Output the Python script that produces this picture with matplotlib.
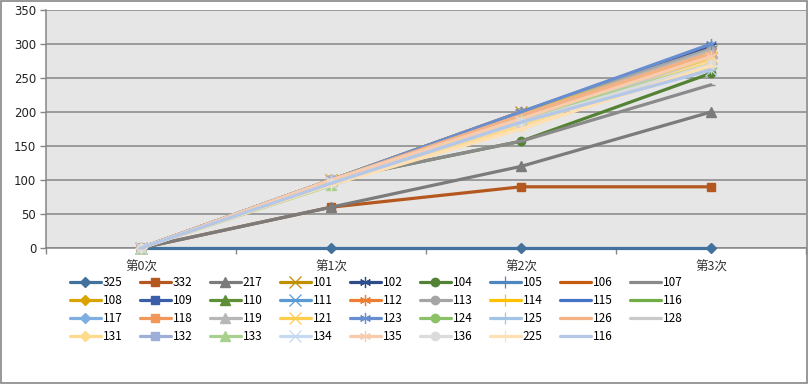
import matplotlib
matplotlib.use("Agg")
import matplotlib.pyplot as plt
from matplotlib.patches import Rectangle

plt.rcParams['font.family'] = ['Noto Sans CJK SC', 'DejaVu Sans']

categories = ["第0次", "第1次", "第2次", "第3次"]

series_names = ["325", "332", "217", "101", "102", "104", "105", "106", "107",
                "108", "109", "110", "111", "112", "113", "114", "115", "116",
                "117", "118", "119", "121", "123", "124", "125", "126", "128",
                "131", "132", "133", "134", "135", "136", "225", "116"]

s325 = [0, 0, 0, 0]
s332 = [0, 60, 90, 90]
s217 = [0, 60, 120, 200]
s101 = [0, 100, 200, 290]
s102 = [0, 100, 200, 297]
s104 = [0, 100, 157, 257]
s105 = [0, 100, 195, 280]
s106 = [0, 100, 195, 285]
s107 = [0, 100, 157, 240]
s108 = [0, 100, 195, 285]
s109 = [0, 100, 190, 270]
s110 = [0, 100, 190, 275]
s111 = [0, 100, 195, 280]
s112 = [0, 100, 200, 290]
s113 = [0, 100, 200, 293]
s114 = [0, 100, 197, 288]
s115 = [0, 100, 185, 265]
s116 = [0, 100, 190, 275]
s117 = [0, 100, 190, 272]
s118 = [0, 100, 195, 285]
s119 = [0, 100, 195, 290]
s121 = [0, 100, 190, 280]
s123 = [0, 100, 200, 300]
s124 = [0, 100, 190, 270]
s125 = [0, 100, 185, 265]
s126 = [0, 100, 195, 287]
s128 = [0, 100, 190, 275]
s131 = [0, 95, 180, 275]
s132 = [0, 100, 185, 268]
s133 = [0, 92, 190, 270]
s134 = [0, 95, 185, 262]
s135 = [0, 100, 190, 282]
s136 = [0, 95, 185, 270]
s225 = [0, 93, 175, 268]
s116b = [0, 95, 185, 262]

series_values = [s325, s332, s217, s101, s102, s104, s105, s106, s107,
                 s108, s109, s110, s111, s112, s113, s114, s115, s116,
                 s117, s118, s119, s121, s123, s124, s125, s126, s128,
                 s131, s132, s133, s134, s135, s136, s225, s116b]

colors = ["#41719C", "#B5581F", "#7B7B7B", "#BF9000", "#2F4C8A", "#548235", "#4E86BE", "#C55A11", "#8A8A8A",
          "#D9A300", "#3A5FA8", "#5E8F36", "#5B9BD5", "#ED7D31", "#A5A5A5", "#FFC000", "#4472C4", "#70AD47",
          "#7FAEE0", "#F1975A", "#B7B7B7", "#FFCD4D", "#698ED0", "#8CC168", "#A3C3E7", "#F4B183", "#C9C9C9",
          "#FFD98C", "#9DAED9", "#A9D18E", "#C5D9F0", "#F8CBAD", "#DBDBDB", "#FFE0B3", "#B4C7E7"]

marker_cycle = ['D', 's', '^', 'x', (6, 2, 0), 'o', '+', '_', '_']

fig = plt.figure(figsize=(8.09, 3.84), dpi=100)
fig.patch.set_facecolor('white')
fig.patches.append(Rectangle((0.001, 0.002), 0.997, 0.995, transform=fig.transFigure,
                             fill=False, edgecolor='#868686', linewidth=1.2))

ax = fig.add_axes([46/809, 1 - 248/384, (806 - 46)/809, (248 - 10)/384])
ax.set_facecolor('#E6E6E6')

x = list(range(len(categories)))
handles = []
for i, (name, vals) in enumerate(zip(series_names, series_values)):
    m = marker_cycle[i % len(marker_cycle)]
    ms = 6
    mew = 1.0
    if m == 'D':
        ms = 5
    if m == '^':
        ms = 6.5
    if m == 'x' or m == (6, 2, 0) or m == '+':
        ms = 8
        mew = 0.9
    h, = ax.plot(x, vals, color=colors[i], linewidth=2.3, marker=m, markersize=ms,
                 markeredgewidth=mew, markerfacecolor=colors[i], markeredgecolor=colors[i],
                 label=name, solid_capstyle='round', zorder=3 + i * 0.01, clip_on=False)
    handles.append(h)

ax.set_xlim(-0.5, 3.5)
ax.set_ylim(0, 350)
ax.set_yticks(range(0, 351, 50))
ax.set_xticks(x)
ax.set_xticklabels(categories)
ax.set_xticks([-0.5, 0.5, 1.5, 2.5, 3.5], minor=True)
ax.tick_params(axis='x', which='major', length=0, pad=9, labelsize=9, colors='#333333')
ax.tick_params(axis='x', which='minor', length=4, color='#868686', width=1)
ax.tick_params(axis='y', length=4, color='#868686', width=1, labelsize=8.5, labelcolor='#222222', pad=3)
for lbl in ax.get_yticklabels():
    lbl.set_family('DejaVu Sans')
ax.grid(axis='y', color='#868686', linewidth=1.1, zorder=1)
ax.set_axisbelow(True)
for side in ['top', 'right']:
    ax.spines[side].set_visible(False)
ax.spines['left'].set_color('#868686')
ax.spines['bottom'].set_color('#868686')
ax.spines['left'].set_linewidth(1.1)
ax.spines['bottom'].set_linewidth(1.1)

# reorder for row-wise filling in a 9-column legend
ncol = 9
n = len(handles)
order = []
for c in range(ncol):
    r = c
    while r < n:
        order.append(r)
        r += ncol
leg = fig.legend([handles[k] for k in order], [series_names[k] for k in order],
                 ncol=ncol, loc='upper left', bbox_to_anchor=(70/809, 1 - 276/384),
                 frameon=False, fontsize=8.5, handlelength=2.6, handletextpad=0.2,
                 columnspacing=1.45, labelspacing=0.43, borderaxespad=0, borderpad=0)

fig.savefig("out.png", dpi=100, facecolor='white')
